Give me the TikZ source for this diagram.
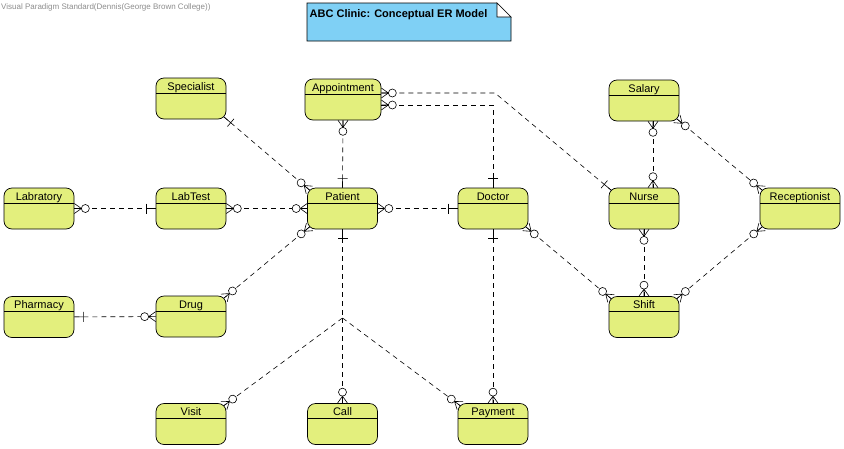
\documentclass[tikz,border=0pt]{standalone}
\usepackage{fontspec}
\setmainfont{Liberation Sans}
\usepackage{xcolor}
\usepackage{tikz}
\usetikzlibrary{decorations.markings}
\definecolor{ERYellow}{HTML}{E3EF7D}
\definecolor{ERBlue}{HTML}{7FD0F5}
\definecolor{ERGray}{HTML}{8C8C8C}

\tikzset{
  zeroManyEnd/.style={postaction={decorate,decoration={markings,mark=at position 1 with {
    \draw[solid,line width=0.6pt] (-7,0) -- (0,5) (-7,0) -- (0,0) (-7,0) -- (0,-5);
    \draw[solid,line width=0.6pt,fill=white] (-11,0) circle (4pt);}}}},
  zeroManyStart/.style={postaction={decorate,decoration={markings,mark=at position 0 with {
    \draw[solid,line width=0.6pt] (7,0) -- (0,5) (7,0) -- (0,0) (7,0) -- (0,-5);
    \draw[solid,line width=0.6pt,fill=white] (11,0) circle (4pt);}}}},
  oneEnd/.style={postaction={decorate,decoration={markings,mark=at position 1 with {
    \draw[solid,line width=0.6pt] (-9,-5) -- (-9,5) (-9,0) -- (0,0);}}}},
  oneStart/.style={postaction={decorate,decoration={markings,mark=at position 0 with {
    \draw[solid,line width=0.6pt] (9,-5) -- (9,5) (9,0) -- (0,0);}}}}
}

\begin{document}
\begin{tikzpicture}[x=1pt,y=-1pt,
  entity/.style={draw,line width=0.7pt,fill=ERYellow,rounded corners=8pt,
    minimum width=70pt,minimum height=41pt,inner sep=2pt,text height=10pt,text depth=27pt,
    font=\fontsize{11}{13}\selectfont,
    path picture={\draw[line width=0.7pt] ([yshift=-15pt]path picture bounding box.north west)
      -- ([yshift=-15pt]path picture bounding box.north east);}},
  rel/.style={draw,dash pattern=on 5pt off 4pt,line width=0.6pt}]
\path[use as bounding box] (0,0) rectangle (844,448);

% header
\node[anchor=north west,inner sep=0pt,text=ERGray,font=\fontsize{8}{9}\selectfont] (stamp) at (1,3)
  {Visual Paradigm Standard(Dennis(George Brown College))};
\filldraw[fill=ERBlue,line width=0.7pt] (307,3) -- (497,3) -- (511,17) -- (511,41) -- (307,41) -- cycle;
\filldraw[fill=white,line width=0.7pt] (497,3) -- (497,17) -- (511,17) -- cycle;
\node[anchor=base west,inner sep=0pt,font=\bfseries\fontsize{11}{13}\selectfont] (title) at (309.5,17)
  {ABC Clinic: Conceptual ER Model};

% entities
\node[entity] (specialist) at (191,98.5) {Specialist};
\node[entity,minimum width=76pt] (appointment) at (343,99.5) {Appointment};
\node[entity] (salary) at (644,100.5) {Salary};
\node[entity] (labratory) at (39,208.5) {Labratory};
\node[entity] (labtest) at (191,208.5) {LabTest};
\node[entity] (patient) at (342.5,208.5) {Patient};
\node[entity] (doctor) at (493,208.5) {Doctor};
\node[entity] (nurse) at (644,208.5) {Nurse};
\node[entity,minimum width=80pt] (receptionist) at (800,208.5) {Receptionist};
\node[entity] (pharmacy) at (39,317) {Pharmacy};
\node[entity] (drug) at (191,316.5) {Drug};
\node[entity] (shift) at (644,317) {Shift};
\node[entity] (visit) at (191,424) {Visit};
\node[entity] (call) at (342.5,424) {Call};
\node[entity] (payment) at (493,424) {Payment};

% relationships
\coordinate (apptBend) at (495,93);
\coordinate (fork) at (342.5,318);
\draw[rel,oneStart,zeroManyEnd] ([shift={(-2.5,-2.5)}]specialist.south east) -- ([shift={(2.5,2.5)}]patient.north west);
\draw[rel,zeroManyStart,oneEnd] (appointment.south) -- (patient.north);
\draw[rel,zeroManyStart,oneEnd] ([yshift=-5.5pt]appointment.east) -| (doctor.north);
\draw[rel,zeroManyStart,oneEnd] ([yshift=6.5pt]appointment.east) -- (apptBend) -- ([shift={(2.5,2.5)}]nurse.north west);
\draw[rel,zeroManyStart,oneEnd] (labratory) -- (labtest);
\draw[rel,zeroManyStart,zeroManyEnd] (labtest) -- (patient);
\draw[rel,zeroManyStart,oneEnd] (patient) -- (doctor);
\draw[rel,zeroManyStart,zeroManyEnd] ([shift={(2.5,-2.5)}]patient.south west) -- ([shift={(-2.5,2.5)}]drug.north east);
\draw[rel,oneStart,zeroManyEnd] (pharmacy) -- (drug);
\draw[rel,oneStart] (patient) -- (fork);
\draw[rel,zeroManyEnd] (fork) -- ([shift={(-2.5,2.5)}]visit.north east);
\draw[rel,zeroManyEnd] (fork) -- (call);
\draw[rel,zeroManyEnd] (fork) -- ([shift={(2.5,2.5)}]payment.north west);
\draw[rel,oneStart,zeroManyEnd] (doctor.south) -- (payment.north);
\draw[rel,zeroManyStart,zeroManyEnd] ([shift={(-2.5,-2.5)}]doctor.south east) -- ([shift={(2.5,2.5)}]shift.north west);
\draw[rel,zeroManyStart,zeroManyEnd] (nurse) -- (shift);
\draw[rel,zeroManyStart,zeroManyEnd] ([shift={(2.5,-2.5)}]receptionist.south west) -- ([shift={(-2.5,2.5)}]shift.north east);
\draw[rel,zeroManyStart,zeroManyEnd] ([xshift=9pt]salary.south) -- ([xshift=9pt]nurse.north);
\draw[rel,zeroManyStart,zeroManyEnd] ([shift={(-2.5,-2.5)}]salary.south east) -- ([shift={(2.5,2.5)}]receptionist.north west);
\end{tikzpicture}
\end{document}
